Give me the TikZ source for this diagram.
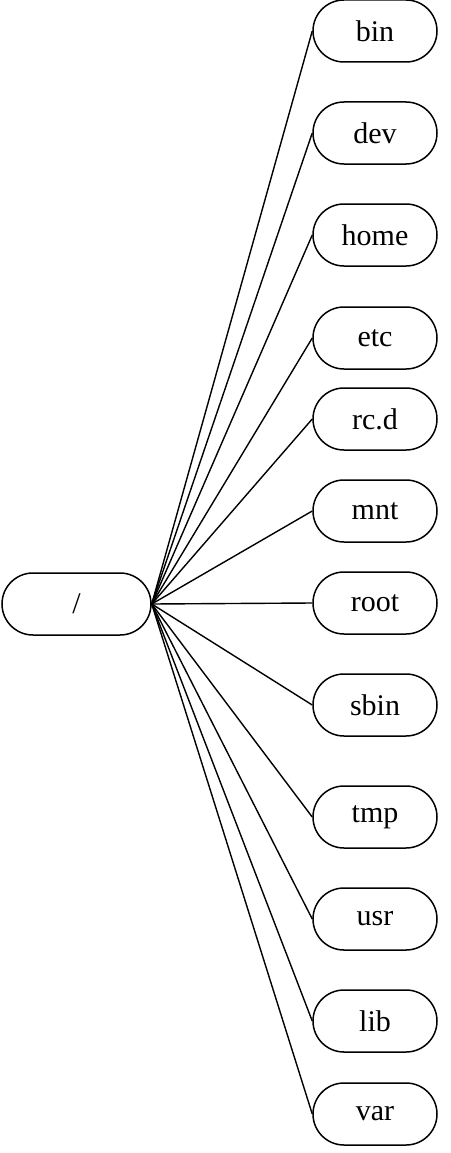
\documentclass[tikz,border=0pt]{standalone}
\usepackage{fontspec}
\setmainfont{Liberation Serif}
\usetikzlibrary{shapes.misc}

\begin{document}
\begin{tikzpicture}[x=1pt,y=-1pt,
        dir style/.style={draw,line width=1.5pt,rounded rectangle,minimum height=62pt,inner sep=0pt,font=\fontsize{30}{30}\selectfont},
        link style/.style={line width=1.4pt}]
        \useasboundingbox (0,0) rectangle (450,1153);
        \node[dir style,minimum width=149pt] (top) at (76.5,604) {/};
        \foreach \name/\txt/\y in {bin/bin/31,dev/dev/133,home/home/235,etc/etc/338,rcd/rc.d/419,mnt/mnt/511,root/root/603,sbin/sbin/705,tmp/tmp/817,usr/usr/919,lib/lib/1021,var/var/1114}{
                \node[dir style,minimum width=124pt] (\name) at (375,\y) {\txt};
                \draw[link style] (top.east) -- (\name.west);
        }
\end{tikzpicture}
\end{document}
